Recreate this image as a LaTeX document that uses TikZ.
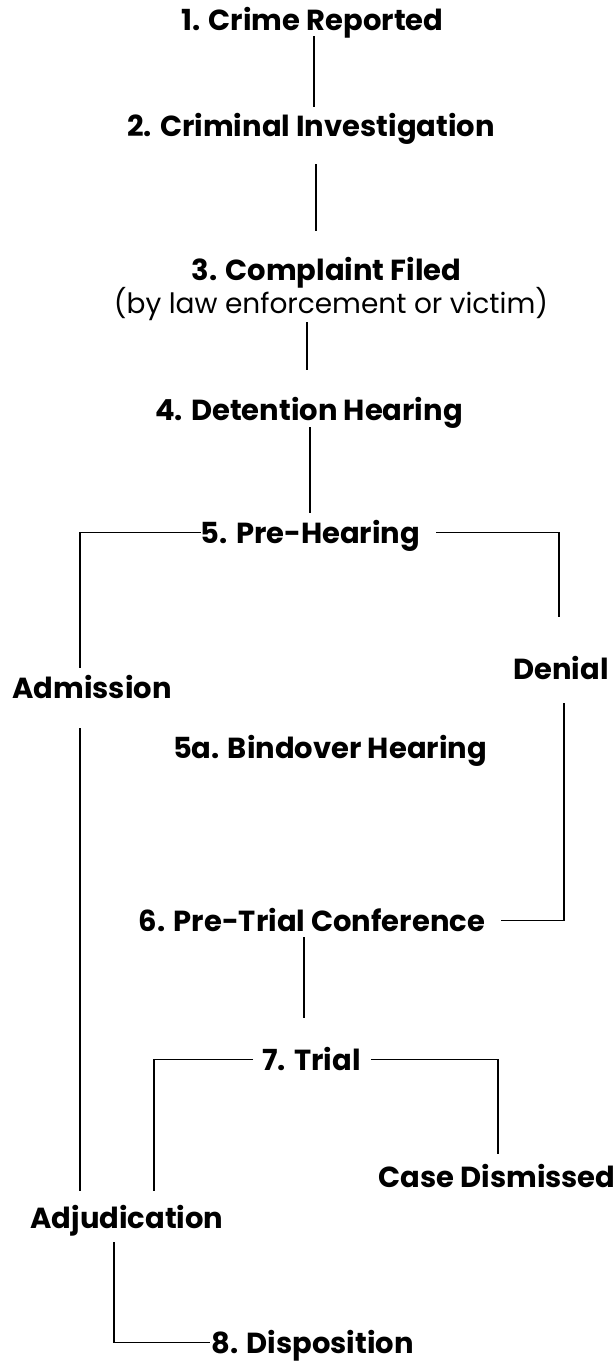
\documentclass[tikz,border=0pt]{standalone}
\usepackage{fontspec}
\setmainfont{Poppins}
\usetikzlibrary{calc}
\begin{document}
\begin{tikzpicture}[
    x=1pt, y=-1pt,
    stage/.style={font=\fontsize{29}{33}\selectfont\bfseries, anchor=base,
                  inner sep=0pt, text height=21pt, text depth=0pt},
    note/.style={font=\fontsize{28}{32}\selectfont, anchor=base,
                 inner sep=0pt, text height=21pt, text depth=0pt},
    link/.style={line width=1.8pt},
]
    \useasboundingbox (0,0) rectangle (613,1362);
    \node[stage] (crime) at (312.5, 31) {1. Crime Reported};
    \node[stage] (invest) at (311, 137) {2. Criminal Investigation};
    \node[stage] (complaint) at (326.5, 280) {3. Complaint Filed};
    \node[note] (sub) at (331, 313) {(by law enforcement or victim)};
    \node[stage] (detention) at (309, 420) {4. Detention Hearing};
    \node[stage] (prehear) at (310.5, 543) {5. Pre-Hearing};
    \node[stage] (denial) at (561, 679) {Denial};
    \node[stage] (admit) at (92, 698) {Admission};
    \node[stage] (bindover) at (330, 758) {5a. Bindover Hearing};
    \node[stage] (pretrial) at (312, 931) {6. Pre-Trial Conference};
    \node[stage] (trial) at (311.5, 1070) {7. Trial};
    \node[stage] (dismissed) at (497, 1187) {Case Dismissed};
    \node[stage] (adjud) at (127, 1228) {Adjudication};
    \node[stage] (dispo) at (312.5, 1353) {8. Disposition};
    % main line
    \draw[link] ($(crime.south)+(1.5,5)$) -- ($(invest.north)+(3,-9)$);
    \draw[link] ($(invest.south)+(5,27)$) -- ($(complaint.north)+(-10.5,-28)$);
    \draw[link] ($(sub.south)+(-24,9)$) -- ($(detention.north)+(-2,-29)$);
    \draw[link] ($(detention.south)+(1,7)$) -- ($(prehear.north)+(-0.5,-9)$);
    % plea branches
    \draw[link] (prehear.west) -| ($(admit.north)+(-12,-9)$);
    \draw[link] ($(prehear.east)+(16,0)$) -| ($(denial.north)+(-2,-41)$);
    \draw[link] ($(denial.south)+(3,24)$) |- ($(pretrial.east)+(16,0)$);
    \draw[link] ($(admit.south)+(-12,30)$) -- ($(adjud.north)+(-47,-16)$);
    \draw[link] ($(pretrial.south)+(-8,6)$) -- ($(trial.north)+(-7.5,-31)$);
    % trial outcomes
    \draw[link] ($(trial.west)+(-9,0)$) -| ($(adjud.north)+(27,-16)$);
    \draw[link] ($(trial.east)+(10,0)$) -| ($(dismissed.north)+(1,-12)$);
    \draw[link] ($(adjud.south)+(-13,14)$) |- ($(dispo.west)+(-1,0)$);
\end{tikzpicture}
\end{document}
